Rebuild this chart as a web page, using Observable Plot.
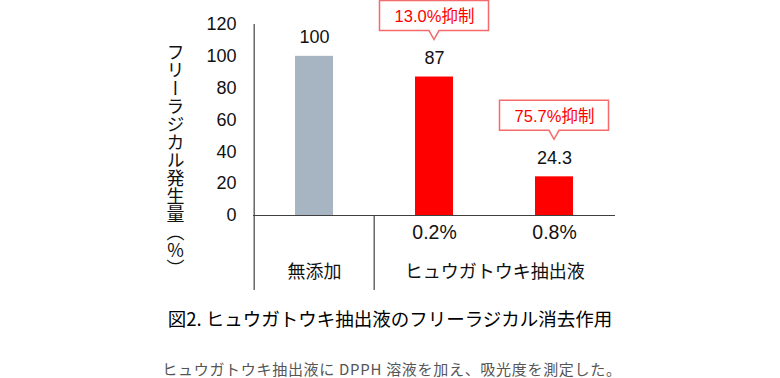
<!DOCTYPE html>
<html>
<head>
<meta charset="utf-8">
<script src="https://cdn.jsdelivr.net/npm/d3@7"></script>
<script src="https://cdn.jsdelivr.net/npm/@observablehq/plot@0.6"></script>
<style>
  body { margin: 0; background: #fff; }
  #wrap { position: relative; width: 780px; height: 378px; overflow: hidden; font-family: "Noto Sans CJK JP", sans-serif; }
  #chart { position: absolute; left: 0; top: 0; }
  #title { position: absolute; left: 0; width: 780px; top: 306px; text-align: center; font-size: 18.5px; font-weight: 400; line-height: 24px; color: #000; }
  #caption { position: absolute; left: 2px; width: 780px; top: 360px; text-align: center; font-size: 15px; line-height: 18px; color: #555; letter-spacing: 0.7px; }
</style>
</head>
<body>
<div id="wrap">
  <div id="chart"></div>
  <div id="title"></div>
  <div id="caption"></div>
</div>
<script>
// ---- data ----
const categories = ["無添加", "0.2%", "0.8%"];
const values = [100, 87, 24.3];
const valueLabels = ["100", "87", "24.3"];
const barColors = ["#a7b4c2", "#ff0000", "#ff0000"];
const yTicks = [0, 20, 40, 60, 80, 100, 120];
const concLabels = ["", "0.2%", "0.8%"];
const groupLabels = ["無添加", "ヒュウガトウキ抽出液"];
const calloutCats = ["0.2%", "0.8%"];
const calloutValues = [87, 24.3];
const calloutTexts = ["13.0%抑制", "75.7%抑制"];
const yTitle = "フリーラジカル発生量（%）";
const titleText = "図2. ヒュウガトウキ抽出液のフリーラジカル消去作用";
const captionText = "ヒュウガトウキ抽出液に DPPH 溶液を加え、吸光度を測定した。";

// ---- layout ----
const W = 780, H = 295, mL = 253, mR = 165, mT = 24, mB = 80;
const step = (W - mL - mR) / categories.length;
const frameH = H - mT - mB;
const axisColor = "#404040";
const numFont = "'Liberation Sans', Arial, 'Noto Sans CJK JP', sans-serif";
const jpFont = "'Noto Sans CJK JP', sans-serif";

const bars = categories.map((c, i) => ({cat: c, value: values[i], label: valueLabels[i], color: barColors[i], conc: concLabels[i]}));
const callouts = calloutCats.map((c, i) => ({cat: c, value: calloutValues[i], text: calloutTexts[i]}));

const chart = Plot.plot({
  width: W, height: H,
  marginLeft: mL, marginRight: mR, marginTop: mT, marginBottom: mB,
  style: {fontFamily: numFont, fontSize: "18px", background: "#fff", color: "#111", overflow: "visible"},
  x: {domain: categories, paddingInner: 0.685, paddingOuter: 0.3425, axis: null},
  y: {domain: [0, 120], axis: null},
  marks: [
    Plot.axisY({ticks: yTicks, tickSize: 0, tickPadding: 17, fontSize: 18, label: null, fill: "#111"}),
    Plot.barY(bars, {x: "cat", y: "value", fill: "color"}),
    Plot.ruleY([0], {stroke: axisColor, strokeWidth: 1.2}),
    // y axis line (extends through category label area)
    Plot.ruleX([categories[0]], {dx: -step / 2, insetBottom: -75, stroke: axisColor, strokeWidth: 1.2}),
    // group divider
    Plot.ruleX([categories[1]], {dx: -step / 2, insetTop: frameH, insetBottom: -75, stroke: axisColor, strokeWidth: 1.2}),
    Plot.text(bars, {x: "cat", y: "value", text: "label", dy: -19, fontSize: 18, fill: "#111"}),
    Plot.text(bars, {x: "cat", text: "conc", frameAnchor: "bottom", dy: 23, fontSize: 19.5, fill: "#111"}),
    Plot.text([groupLabels[0]], {x: () => categories[0], text: d => d, frameAnchor: "bottom", dy: 62, fontSize: 18, fill: "#111", fontFamily: jpFont}),
    Plot.text([groupLabels[1]], {x: () => categories[1], text: d => d, frameAnchor: "bottom", dx: step / 2, dy: 62, fontSize: 18, fill: "#111", fontFamily: jpFont}),
    // callout boxes
    Plot.dot(callouts, {x: "cat", y: "value", render(index, scales, vals) {
      const g = d3.create("svg:g");
      const bw = scales.x && scales.x.bandwidth;
      const half = (typeof bw === "function" ? bw() : (bw || 0)) / 2;
      for (const i of index) {
        const cx = vals.x[i] + half;
        const tipY = vals.y[i] - 37;
        const w = 109, h = 30, bottom = tipY - 9, top = bottom - h;
        g.append("path")
          .attr("d", `M${cx - w / 2},${top}H${cx + w / 2}V${bottom}H${cx + 5}L${cx},${tipY}L${cx - 5},${bottom}H${cx - w / 2}Z`)
          .attr("fill", "#fff").attr("stroke", "#f56a6a").attr("stroke-width", 1.5);
      }
      return g.node();
    }}),
    Plot.text(callouts, {x: "cat", y: "value", text: "text", dy: -60, fontSize: 16.5, fill: "#ff0000"}),
    // vertical y-axis title
    Plot.text([yTitle], {frameAnchor: "left", text: d => d, dx: -78, dy: 34, textAnchor: "middle", fontSize: 18, fill: "#111",
      fontFamily: jpFont,
      render(index, scales, vals, dims, ctx, next) {
        const g = next(index, scales, vals, dims, ctx);
        g.setAttribute("style", "writing-mode: vertical-rl; text-orientation: upright;");
        return g;
      }})
  ]
});
document.getElementById("chart").appendChild(chart);
document.getElementById("title").textContent = titleText;
document.getElementById("caption").textContent = captionText;
</script>
</body>
</html>
